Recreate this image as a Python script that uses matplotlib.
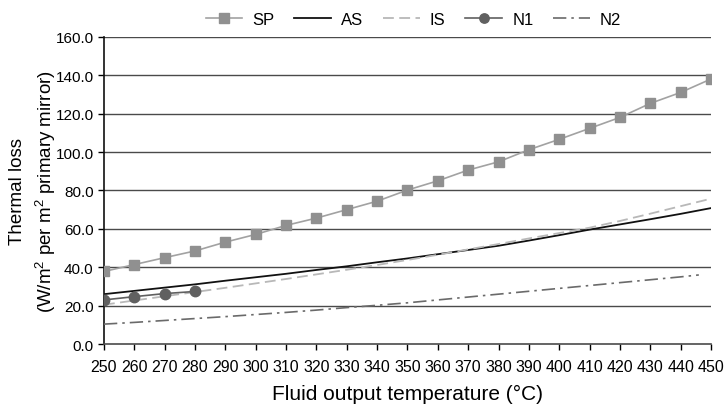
import matplotlib
matplotlib.use('Agg')
import matplotlib.pyplot as plt

plt.rcParams['font.family'] = ['Liberation Sans', 'DejaVu Sans']
plt.rcParams['mathtext.fontset'] = 'custom'
plt.rcParams['mathtext.rm'] = 'Liberation Sans'

# 数据
temps = [250, 260, 270, 280, 290, 300, 310, 320, 330, 340, 350,
         360, 370, 380, 390, 400, 410, 420, 430, 440, 450]
sp = [37.8, 41.4, 45.0, 48.5, 53.1, 57.1, 61.8, 65.6, 70.0, 74.4, 80.2,
      85.0, 90.6, 94.9, 101.2, 106.6, 112.3, 118.0, 125.3, 131.0, 138.0]
as_ = [26.0, 27.7, 29.4, 31.1, 33.0, 34.8, 36.6, 38.6, 40.5, 42.6, 44.6,
       46.8, 49.0, 51.2, 53.9, 56.7, 59.6, 62.3, 65.0, 67.8, 70.8]
is_ = [20.5, 22.7, 24.9, 27.1, 29.3, 31.6, 33.9, 36.3, 38.7, 41.2, 43.8,
       46.5, 49.3, 52.1, 55.0, 57.8, 60.6, 64.1, 67.9, 71.8, 75.7]
n1_temps = [250, 260, 270, 280]
n1 = [23.0, 24.7, 26.3, 27.4]
n2_temps = [250, 260, 270, 280, 290, 300, 310, 320, 330, 340, 350,
            360, 370, 380, 390, 400, 410, 420, 430, 440, 446]
n2 = [10.4, 11.3, 12.3, 13.3, 14.3, 15.4, 16.5, 17.7, 19.0, 20.2, 21.5,
      23.0, 24.5, 26.0, 27.5, 29.0, 30.5, 32.0, 33.5, 35.0, 36.0]
yticks = [0, 20, 40, 60, 80, 100, 120, 140, 160]

fig = plt.figure(figsize=(7.24, 4.06), dpi=100)
ax = fig.add_axes([0.1436, 0.150, 0.8384, 0.757])

# 网格线
for y in yticks[1:]:
    ax.axhline(y, color='#4a4a4a', lw=1.0, zorder=1)

ax.plot(temps, sp, '-s', color='#a2a2a2', mfc='#909090', mec='#909090',
        ms=7.5, lw=1.2, label='SP', zorder=4)
ax.plot(temps, as_, '-', color='#111111', lw=1.3, label='AS', zorder=3)
ax.plot(temps, is_, '--', color='#b8b8b8', lw=1.3, dashes=(6, 3), label='IS', zorder=3)
ax.plot(n1_temps, n1, '-o', color='#606060', mfc='#606060', mec='#606060',
        ms=7.5, lw=1.2, label='N1', zorder=5)
ax.plot(n2_temps, n2, '-.', color='#6a6a6a', lw=1.2, dashes=(8, 3, 1.5, 3),
        label='N2', zorder=3)

ax.set_xlim(250, 450)
ax.set_ylim(0, 160)
ax.set_xticks(range(250, 451, 10))
ax.set_yticks(yticks)
ax.set_yticklabels([f'{v:.1f}' for v in yticks])
ax.tick_params(axis='both', direction='out', length=4, width=1)
ax.tick_params(axis='y', labelsize=11)
ax.tick_params(axis='x', labelsize=11.5, pad=7)

for s in ['top', 'right']:
    ax.spines[s].set_visible(False)
ax.spines['left'].set_color('#111111')
ax.spines['bottom'].set_color('#4a4a4a')
ax.spines['left'].set_linewidth(1.2)
ax.spines['bottom'].set_linewidth(1.2)

ax.set_xlabel('Fluid output temperature (°C)', fontsize=15, labelpad=7)
ax.set_ylabel('Thermal loss\n(W/m$^2$ per m$^2$ primary mirror)', fontsize=13.5,
              linespacing=1.35)
ax.yaxis.set_label_coords(-0.076, 0.5)

ax.legend(loc='lower center', bbox_to_anchor=(0.51, 1.0), ncol=5, frameon=False,
          fontsize=12, handlelength=2.2, columnspacing=1.2, handletextpad=0.6,
          borderaxespad=0.2, markerscale=0.9)

plt.savefig('out.png', dpi=100)
